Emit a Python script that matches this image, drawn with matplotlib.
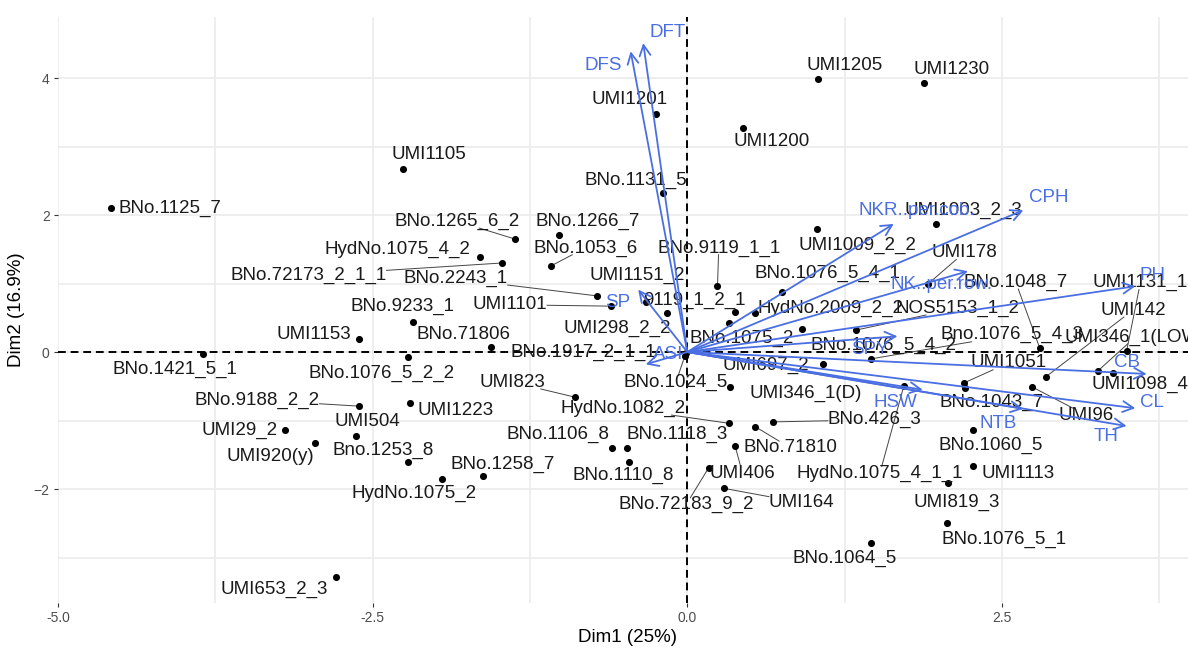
import matplotlib
matplotlib.use("Agg")
import matplotlib.pyplot as plt
import numpy as np

plt.rcParams["font.family"] = ["Liberation Sans", "DejaVu Sans"]

# PCA biplot: individuals (scores on Dim1 / Dim2)
ind_names = [
    "BNo.1125_7", "UMI1205", "UMI1230", "UMI1201", "UMI1200", "UMI1105",
    "BNo.1131_5", "UMI1003_2_3", "UMI1009_2_2", "BNo.1265_6_2", "BNo.1266_7",
    "HydNo.1075_4_2", "BNo.72173_2_1_1", "BNo.1053_6", "BNo.9119_1_1", "UMI178",
    "BNo.1076_5_4_1", "BNo.2243_1", "UMI1101", "UMI1151_2", "9119_1_2_1",
    "UMI298_2_2", "HydNo.2009_2_2", "BNo.1075_2", "BNo.1076_5_4_2", "NOS5153_1_2",
    "Bno.1076_5_4_3", "BNo.1048_7", "UMI1131_1", "UMI142", "UMI346_1(LOW)",
    "UMI1098_4", "UMI1051", "BNo.1043_7", "UMI96", "BNo.1060_5", "UMI1113",
    "UMI819_3", "BNo.1076_5_1", "BNo.1064_5", "HydNo.1075_4_1_1", "UMI697_2",
    "UMI346_1(D)", "BNo.426_3", "BNo.71810", "UMI406", "BNo.72183_9_2", "UMI164",
    "HydNo.1082_2", "BNo.1118_3", "BNo.1106_8", "BNo.1110_8", "UMI823",
    "BNo.1024_5", "BNo.71806", "BNo.9233_1", "BNo.1917_2_1_1", "UMI1153",
    "BNo.1421_5_1", "BNo.1076_5_2_2", "BNo.9188_2_2", "UMI504", "UMI1223",
    "UMI29_2", "UMI920(y)", "Bno.1253_8", "HydNo.1075_2", "BNo.1258_7",
    "UMI653_2_3",
]
ind_x = [
    -4.58, 1.04, 1.88, -0.25, 0.44, -2.26,
    -0.19, 1.98, 1.03, -1.37, -1.02,
    -1.65, -1.47, -1.08, 0.24, 1.91,
    0.75, -0.72, -0.61, -0.33, 0.38,
    -0.16, 0.54, 0.33, 0.91, 1.34,
    1.46, 2.80, 3.49, 2.85, 3.26,
    3.38, 2.20, 2.21, 2.74, 2.27, 2.27,
    2.07, 2.06, 1.46, 1.72, 1.08,
    0.34, 0.68, 0.54, 0.38, 0.17, 0.29,
    0.33, -0.48, -0.60, -0.46, -0.89,
    -0.02, -1.56, -2.18, -0.01, -2.61,
    -3.85, -2.22, -2.61, -2.63, -2.20,
    -3.20, -2.96, -2.22, -1.95, -1.62,
    -2.79,
]
ind_y = [
    2.10, 3.99, 3.93, 3.47, 3.27, 2.67,
    2.32, 1.87, 1.80, 1.65, 1.71,
    1.39, 1.30, 1.26, 0.96, 0.99,
    0.88, 0.82, 0.67, 0.73, 0.58,
    0.57, 0.57, 0.42, 0.34, 0.32,
    -0.10, 0.06, 0.01, -0.36, -0.28,
    -0.31, -0.45, -0.53, -0.51, -1.14, -1.66,
    -1.91, -2.50, -2.79, -0.50, -0.18,
    -0.51, -1.02, -1.09, -1.37, -1.69, -1.99,
    -1.04, -1.40, -1.40, -1.61, -0.66,
    -0.06, 0.07, 0.44, -0.02, 0.19,
    -0.03, -0.07, -0.79, -1.23, -0.74,
    -1.14, -1.33, -1.61, -1.85, -1.81,
    -3.28,
]
# where the repelled labels ended up
ind_lab_x = [
    -4.11, 1.25, 2.10, -0.46, 0.67, -2.05,
    -0.41, 2.19, 1.35, -1.83, -0.79,
    -2.30, -3.01, -0.81, 0.25, 2.20,
    1.11, -1.84, -1.41, -0.40, 0.06,
    -0.56, 1.14, 0.43, 1.56, 2.15,
    2.58, 2.61, 3.60, 3.54, 3.56,
    3.60, 2.55, 2.42, 3.17, 2.41, 2.63,
    2.14, 2.52, 1.25, 1.53, 0.62,
    0.94, 1.49, 0.82, 0.44, -0.01, 0.91,
    -0.51, -0.08, -1.03, -0.51, -1.39,
    -0.09, -1.78, -2.26, -0.83, -2.97,
    -4.07, -2.43, -3.42, -2.54, -1.84,
    -3.56, -3.31, -2.42, -2.17, -1.47,
    -3.28,
]
ind_lab_y = [
    2.10, 4.19, 4.13, 3.68, 3.07, 2.88,
    2.50, 2.07, 1.56, 1.91, 1.91,
    1.50, 1.12, 1.52, 1.52, 1.45,
    1.15, 1.07, 0.69, 1.12, 0.76,
    0.35, 0.64, 0.20, 0.10, 0.64,
    0.25, 1.02, 1.01, 0.61, 0.22,
    -0.48, -0.16, -0.73, -0.92, -1.36, -1.78,
    -2.19, -2.73, -3.01, -1.77, -0.20,
    -0.60, -0.99, -1.40, -1.78, -2.23, -2.20,
    -0.82, -1.21, -1.21, -1.80, -0.44,
    -0.44, 0.26, 0.66, 0.00, 0.26,
    -0.26, -0.31, -0.70, -1.01, -0.85,
    -1.14, -1.53, -1.43, -2.06, -1.64,
    -3.47,
]
# labels that got a connector segment
seg_names = [
    "BNo.1265_6_2", "BNo.72173_2_1_1", "BNo.1053_6", "BNo.2243_1", "UMI1101",
    "BNo.9119_1_1", "UMI178", "BNo.1048_7", "UMI1131_1", "UMI142", "UMI346_1(LOW)",
    "UMI96", "UMI1051", "Bno.1076_5_4_3", "NOS5153_1_2", "BNo.9188_2_2", "UMI823",
    "HydNo.1082_2", "UMI406", "BNo.71810", "BNo.426_3", "BNo.72183_9_2", "UMI164",
    "HydNo.1075_4_1_1", "BNo.1024_5",
]

# variables (loadings drawn as arrows)
var_names = ["DFT", "DFS", "SP", "ASI", "NKR..per.cob.", "CPH", "NK..per.row.",
             "PH", "SPY", "CB", "CL", "TH", "HSW", "NTB"]
var_x = [-0.35, -0.45, -0.39, -0.33, 1.64, 2.67, 2.23, 3.56, 1.67, 3.65, 3.56, 3.49, 1.87, 2.67]
var_y = [4.51, 4.39, 0.91, -0.18, 1.87, 2.07, 1.18, 0.96, 0.23, -0.32, -0.82, -1.08, -0.55, -0.83]
var_lab_x = [-0.16, -0.67, -0.55, -0.15, 1.82, 2.87, 2.02, 3.70, 1.45, 3.49, 3.69, 3.33, 1.65, 2.47]
var_lab_y = [4.67, 4.19, 0.73, -0.03, 2.07, 2.26, 0.98, 1.12, 0.03, -0.16, -0.73, -1.23, -0.73, -1.05]

BLUE = "#4a6fe3"
FS = 13.5

fig = plt.figure(figsize=(11.88, 6.48), dpi=100)
ax = fig.add_axes([58 / 1188, 45 / 648, 1139 / 1188, 586 / 648])
ax.set_xlim(-5.0, 4.05)
ax.set_ylim(-3.664, 4.891)

ax.set_xticks([-5.0, -2.5, 0.0, 2.5])
ax.set_xticklabels(["-5.0", "-2.5", "0.0", "2.5"])
ax.set_xticks([-3.75, -1.25, 1.25, 3.75], minor=True)
ax.set_yticks([-2, 0, 2, 4])
ax.set_yticks([-3, -1, 1, 3], minor=True)
ax.grid(which="both", color="#ebebeb", lw=1.2)
ax.set_axisbelow(True)
for s in ax.spines.values():
    s.set_visible(False)
ax.tick_params(which="major", length=3, width=0.8, color="#333333",
               labelsize=10, labelcolor="#4d4d4d", pad=3)
ax.tick_params(which="minor", length=0)

ax.set_xlabel("Dim1 (25%)", fontsize=FS, labelpad=3)
ax.set_ylabel("Dim2 (16.9%)", fontsize=FS, labelpad=6)

ax.axhline(0, color="black", lw=1.4, ls=(0, (4, 2.5)), zorder=1.5)
ax.axvline(0, color="black", lw=1.4, ls=(0, (4, 2.5)), zorder=1.5)

ax.scatter(ind_x, ind_y, s=26, color="black", zorder=3, linewidths=0)

texts = []
for name, lx, ly in zip(ind_names, ind_lab_x, ind_lab_y):
    t = ax.text(lx, ly, name, fontsize=FS, color="#1a1a1a",
                ha="center", va="center", zorder=4)
    texts.append(t)

for vx, vy in zip(var_x, var_y):
    ax.annotate("", xy=(vx, vy), xytext=(0, 0), zorder=5,
                arrowprops=dict(arrowstyle="->,head_length=0.55,head_width=0.28",
                                color=BLUE, lw=1.3, shrinkA=0, shrinkB=0,
                                mutation_scale=14))
for name, lx, ly in zip(var_names, var_lab_x, var_lab_y):
    ax.text(lx, ly, name, fontsize=FS, color=BLUE, ha="center", va="center", zorder=6)

# connector segments like ggrepel: from point towards label centre, stopped at label box
fig.canvas.draw()
renderer = fig.canvas.get_renderer()
inv = ax.transData.inverted()
for t, name, px, py in zip(texts, ind_names, ind_x, ind_y):
    if name not in seg_names:
        continue
    bb = t.get_window_extent(renderer).expanded(1.0, 0.8)
    p = np.array(ax.transData.transform((px, py)))
    c = np.array([(bb.x0 + bb.x1) / 2, (bb.y0 + bb.y1) / 2])
    d = c - p
    t_in = 0.0
    for k, (lo, hi) in enumerate([(bb.x0, bb.x1), (bb.y0, bb.y1)]):
        if abs(d[k]) > 1e-9:
            a, b = (lo - p[k]) / d[k], (hi - p[k]) / d[k]
            t_in = max(t_in, min(a, b))
    end = p + d * t_in
    p0 = inv.transform(p)
    p1 = inv.transform(end)
    ax.plot([p0[0], p1[0]], [p0[1], p1[1]], color="#444444", lw=0.7, zorder=2)

fig.savefig("out.png", dpi=100)
